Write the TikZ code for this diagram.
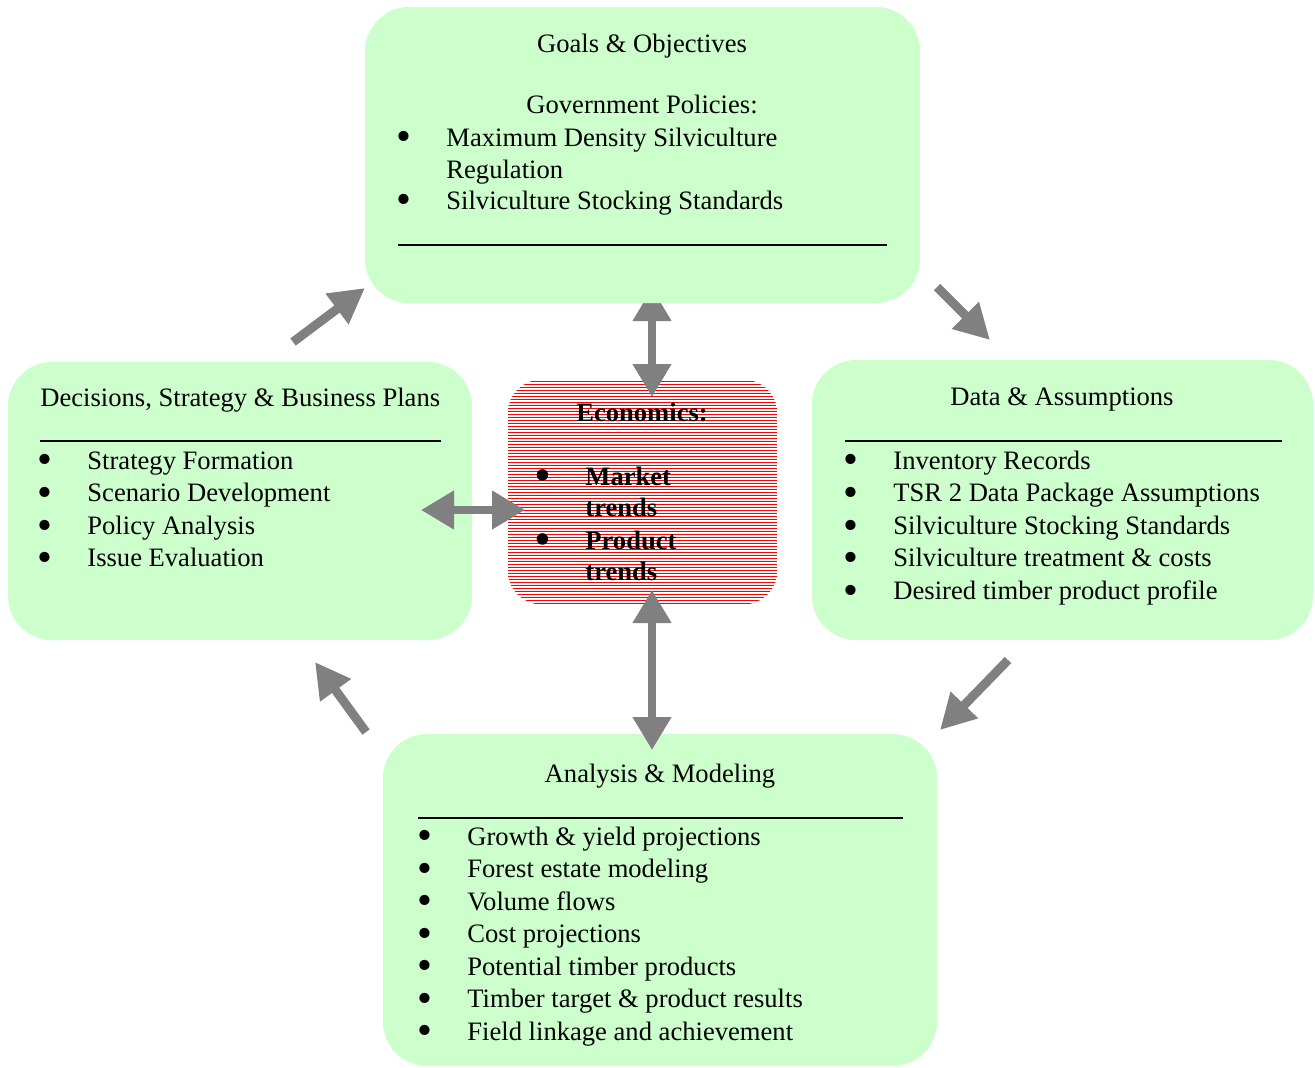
\documentclass[tikz,border=0pt]{standalone}
\usepackage{fontspec}
\setmainfont{Liberation Serif}
\usetikzlibrary{arrows.meta}

\definecolor{boxgreen}{HTML}{CCFFCC}
\definecolor{arrowgray}{HTML}{808080}

\newcommand{\itm}[1]{\makebox[0pt][c]{\smash{\raisebox{-2.4pt}{\scalebox{1.6}{\textbullet}}}}\hspace{21pt}#1}

\begin{document}
\begin{tikzpicture}[x=0.5pt,y=-0.5pt,
    box/.style={fill=boxgreen, draw=none, rounded corners=22pt, inner sep=0pt},
    txt/.style={anchor=base west, inner sep=0pt, font=\fontsize{13.3}{16}\selectfont},
    ctxt/.style={anchor=base, inner sep=0pt, font=\fontsize{13.3}{16}\selectfont},
    rule/.style={line width=0.8pt},
    bigarrow/.style={draw=arrowgray, line width=4.5pt,
        -{Triangle[length=17.5pt,width=18pt]}},
    dblarrow/.style={draw=arrowgray, line width=3.8pt,
        {Triangle[length=16.5pt,width=18.5pt]}-{Triangle[length=16.5pt,width=18.5pt]}}]
    \useasboundingbox (0,0) rectangle (1315,1067);

    % Economics box in the middle, red hatching
    \node[inner sep=0pt, minimum width=134.5pt, minimum height=112pt] (econ) at (642.5,492) {};
    \begin{scope}
        \clip[rounded corners=17pt] (econ.north west) rectangle (econ.south east);
        \foreach \y in {381,384,...,604}
            \draw[red, line width=0.5pt] (508,\y) -- (777,\y);
    \end{scope}
    \node[ctxt, font=\fontsize{13.3}{16}\selectfont\bfseries] (econT) at (642,421) {Economics:};
    \foreach \t/\y [count=\i] in {{\itm{Market}}/485, {\hspace{21pt}trends}/516,
        {\itm{Product}}/549, {\hspace{21pt}trends}/580}
        \node[txt, font=\fontsize{13.3}{16}\selectfont\bfseries] (econ\i) at (543,\y) {\t};

    % Goals vertical arrow (tip hidden under the box)
    \coordinate (gv1) at (652,288);
    \coordinate (gv2) at (652,397);
    \draw[dblarrow] (gv1) -- (gv2);

    % Goals & Objectives
    \node[box, minimum width=277.5pt, minimum height=148pt] (goals) at (642.5,155) {};
    \node[ctxt] (goalsT) at (642,52) {Goals \& Objectives};
    \node[ctxt] (goalsP) at (642,113) {Government Policies:};
    \node[txt] (goals1) at (404,146) {\itm{Maximum Density Silviculture}};
    \node[txt] (goals2) at (446,178) {Regulation};
    \node[txt] (goals3) at (404,209) {\itm{Silviculture Stocking Standards}};
    \draw[rule] (398,245) -- (887,245);

    % Decisions, Strategy & Business Plans
    \node[box, minimum width=232pt, minimum height=139pt] (dec) at (240,501) {};
    \node[txt] (decT) at (40,406) {Decisions, Strategy \& Business Plans};
    \draw[rule] (40,441) -- (441,441);
    \foreach \t [count=\i] in {Strategy Formation, Scenario Development,
        Policy Analysis, Issue Evaluation}
        \node[txt] (dec\i) at (45,{436.5+32.6*\i}) {\itm{\t}};

    % Data & Assumptions
    \node[box, minimum width=250.5pt, minimum height=140pt] (data) at (1062.5,500) {};
    \node[ctxt] (dataT) at (1062,405) {Data \& Assumptions};
    \draw[rule] (845,441) -- (1282,441);
    \foreach \t [count=\i] in {Inventory Records, TSR 2 Data Package Assumptions,
        Silviculture Stocking Standards, Silviculture treatment \& costs,
        Desired timber product profile}
        \node[txt] (data\i) at (851,{436.5+32.6*\i}) {\itm{\t}};

    % Analysis & Modeling
    \node[box, minimum width=277pt, minimum height=166pt] (ana) at (660,900) {};
    \node[ctxt] (anaT) at (660,782) {Analysis \& Modeling};
    \draw[rule] (418,818) -- (903,818);
    \foreach \t [count=\i] in {Growth \& yield projections, Forest estate modeling,
        Volume flows, Cost projections, Potential timber products,
        Timber target \& product results, Field linkage and achievement}
        \node[txt] (ana\i) at (425,{812.5+32.5*\i}) {\itm{\t}};

    % Arrows of the cycle
    \coordinate (dg1) at (293,342);
    \coordinate (dg2) at (365,288);
    \coordinate (gd1) at (937,287);
    \coordinate (gd2) at (990,340);
    \coordinate (da1) at (1008,660);
    \coordinate (da2) at (940,730);
    \coordinate (ad1) at (366,732);
    \coordinate (ad2) at (315,662);
    \draw[bigarrow] (dg1) -- (dg2);
    \draw[bigarrow] (gd1) -- (gd2);
    \draw[bigarrow] (da1) -- (da2);
    \draw[bigarrow] (ad1) -- (ad2);

    % Economics links
    \coordinate (ev1) at (652,590);
    \coordinate (ev2) at (652,750);
    \coordinate (eh1) at (421,510);
    \coordinate (eh2) at (525,510);
    \draw[dblarrow] (ev1) -- (ev2);
    \draw[dblarrow] (eh1) -- (eh2);
\end{tikzpicture}
\end{document}
